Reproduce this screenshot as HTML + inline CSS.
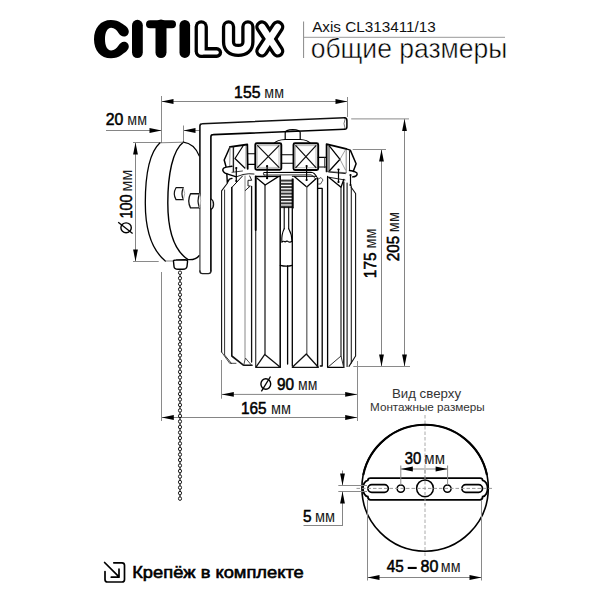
<!DOCTYPE html>
<html><head><meta charset="utf-8"><style>
html,body{margin:0;padding:0;background:#fff;width:600px;height:600px;overflow:hidden}
svg{display:block}
text{font-family:"Liberation Sans",sans-serif}
</style></head><body>
<svg width="600" height="600" viewBox="0 0 600 600">
<path d="M121.5,23.2 C118.5,21 115,20 111,20 C100.5,20 94,28 94,39.2 C94,50.3 100.5,58.3 111,58.3 C115,58.3 118.5,57.3 121.5,55 C125,52.5 128.8,50 128.8,46.5 C128.8,43.5 126.5,41.7 124,41.7 C121.5,41.7 120,43.5 118.5,45.5 C116.5,48.5 114.5,50.4 111.2,50.4 C107,50.4 105,45.5 105,39.2 C105,33 107,27.8 111.2,27.8 C114.5,27.8 116.5,30 118.5,33 C120,35 121.5,36.5 124,36.5 C126.5,36.5 128.8,34.5 128.8,31.5 C128.8,27.5 125,25.5 121.5,23.2 Z" fill="#000"/>
<g stroke="#000" stroke-linecap="round">
<line x1="137.4" y1="25.2" x2="137.4" y2="52.6" stroke="#000" stroke-width="10.8" />
<line x1="150" y1="24.2" x2="172" y2="24.2" stroke="#000" stroke-width="8" />
<line x1="161" y1="25" x2="161" y2="52.6" stroke="#000" stroke-width="11" />
<line x1="184.8" y1="25.2" x2="184.8" y2="52.6" stroke="#000" stroke-width="10.6" />
</g>
<g fill="none" stroke-linecap="round" stroke-linejoin="round">
<path d="M201.25,26.85 V51.2" stroke="#000" stroke-width="13.3"/>
<path d="M201.25,52.5 H216.7" stroke="#000" stroke-width="10.8"/>
<path d="M228.55,26.85 V42 C228.55,47.5 232,50.45 238.2,50.45 C244.4,50.45 247.9,47.5 247.9,42 V26.85" stroke="#000" stroke-width="13.3"/>
<path d="M261.9,26.9 L277.7,51" stroke="#000" stroke-width="13.2"/>
<path d="M277.7,26.9 L261.9,51" stroke="#000" stroke-width="13.2"/>
<path d="M201.25,26.85 V51.2" stroke="#fff" stroke-width="6.7"/>
<path d="M201.25,52.5 H216.7" stroke="#fff" stroke-width="4.2"/>
<path d="M228.55,26.85 V42 C228.55,47.5 232,50.45 238.2,50.45 C244.4,50.45 247.9,47.5 247.9,42 V26.85" stroke="#fff" stroke-width="6.7"/>
<path d="M261.9,26.9 L277.7,51" stroke="#fff" stroke-width="6.6"/>
<path d="M277.7,26.9 L261.9,51" stroke="#fff" stroke-width="6.6"/>
</g>
<line x1="303.6" y1="21.5" x2="303.6" y2="58" stroke="#888" stroke-width="1" />
<line x1="303.6" y1="37.3" x2="505" y2="37.3" stroke="#999" stroke-width="1" />
<text x="312.16" y="32" font-size="15.3" font-weight="normal" fill="#111" textLength="123.70" lengthAdjust="spacingAndGlyphs" >Axis CL313411/13</text>
<text x="310.67" y="58.2" font-size="27.9" font-weight="normal" fill="#000" textLength="196.62" lengthAdjust="spacingAndGlyphs" stroke="#fff" stroke-width="0.5">общие размеры</text>
<line x1="161.5" y1="101.5" x2="347.5" y2="101.5" stroke="#858585" stroke-width="1" />
<polygon points="161.5,101.5 173.50,99.10 173.50,103.90" fill="#000"/>
<polygon points="347.5,101.5 335.50,103.90 335.50,99.10" fill="#000"/>
<line x1="161.5" y1="96" x2="161.5" y2="143" stroke="#8a8a8a" stroke-width="1" />
<line x1="347.5" y1="97" x2="347.5" y2="117" stroke="#8a8a8a" stroke-width="1" />
<text x="234.12" y="98.1" font-size="17.2" font-weight="normal" fill="#000" textLength="26.33" lengthAdjust="spacingAndGlyphs"  stroke="#000" stroke-width="0.55">155</text>
<text x="264.30" y="98.1" font-size="15.9" font-weight="normal" fill="#1a1a1a" textLength="19.67" lengthAdjust="spacingAndGlyphs" >мм</text>
<line x1="106" y1="130.5" x2="161.5" y2="130.5" stroke="#858585" stroke-width="1" />
<polygon points="161.5,130.5 149.50,132.90 149.50,128.10" fill="#000"/>
<line x1="183.5" y1="130.5" x2="200" y2="130.5" stroke="#858585" stroke-width="1" />
<polygon points="183.5,130.5 195.50,128.10 195.50,132.90" fill="#000"/>
<line x1="183.5" y1="125.5" x2="183.5" y2="142" stroke="#8a8a8a" stroke-width="1" />
<text x="105.71" y="124.5" font-size="17.2" font-weight="normal" fill="#000" textLength="17.62" lengthAdjust="spacingAndGlyphs"  stroke="#000" stroke-width="0.55">20</text>
<text x="127.30" y="124.5" font-size="15.9" font-weight="normal" fill="#1a1a1a" textLength="19.67" lengthAdjust="spacingAndGlyphs" >мм</text>
<line x1="135.5" y1="142.5" x2="135.5" y2="261.5" stroke="#858585" stroke-width="1" />
<polygon points="135.5,142.5 137.90,154.50 133.10,154.50" fill="#000"/>
<polygon points="135.5,261.5 133.10,249.50 137.90,249.50" fill="#000"/>
<line x1="133" y1="142.5" x2="160" y2="142.5" stroke="#8a8a8a" stroke-width="1" />
<line x1="133" y1="261.5" x2="158.7" y2="261.5" stroke="#8a8a8a" stroke-width="1" />
<text x="131.6" y="218.59" font-size="17.2" font-weight="normal" fill="#000" textLength="24.14" lengthAdjust="spacingAndGlyphs" transform="rotate(-90 131.6 218.59)" stroke="#000" stroke-width="0.55">100</text>
<text x="131.6" y="191.73" font-size="15.9" font-weight="normal" fill="#1a1a1a" textLength="22.22" lengthAdjust="spacingAndGlyphs" transform="rotate(-90 131.6 191.73)">мм</text>
<ellipse cx="126.1" cy="227.8" rx="5.2" ry="4.9" fill="none" stroke="#000" stroke-width="1.4"/>
<line x1="118.2" y1="222.2" x2="132.6" y2="233.5" stroke="#000" stroke-width="1.3" />
<line x1="381.5" y1="149.5" x2="381.5" y2="366.5" stroke="#858585" stroke-width="1" />
<polygon points="381.5,149.5 383.90,161.50 379.10,161.50" fill="#000"/>
<polygon points="381.5,366.5 379.10,354.50 383.90,354.50" fill="#000"/>
<line x1="352.7" y1="149.5" x2="386" y2="149.5" stroke="#8a8a8a" stroke-width="1" />
<line x1="404.5" y1="118.9" x2="404.5" y2="366.5" stroke="#858585" stroke-width="1" />
<polygon points="404.5,118.9 406.90,130.90 402.10,130.90" fill="#000"/>
<polygon points="404.5,366.5 402.10,354.50 406.90,354.50" fill="#000"/>
<line x1="351.2" y1="118.9" x2="409" y2="118.9" stroke="#8a8a8a" stroke-width="1" />
<line x1="353.3" y1="366.5" x2="410" y2="366.5" stroke="#8a8a8a" stroke-width="1" />
<text x="376.5" y="278.16" font-size="17.2" font-weight="normal" fill="#000" textLength="25.79" lengthAdjust="spacingAndGlyphs" transform="rotate(-90 376.5 278.16)" stroke="#000" stroke-width="0.55">175</text>
<text x="376.5" y="248.52" font-size="15.9" font-weight="normal" fill="#1a1a1a" textLength="20.00" lengthAdjust="spacingAndGlyphs" transform="rotate(-90 376.5 248.52)">мм</text>
<text x="399.5" y="261.26" font-size="17.2" font-weight="normal" fill="#000" textLength="25.38" lengthAdjust="spacingAndGlyphs" transform="rotate(-90 399.5 261.26)" stroke="#000" stroke-width="0.55">205</text>
<text x="399.5" y="232.23" font-size="15.9" font-weight="normal" fill="#1a1a1a" textLength="20.22" lengthAdjust="spacingAndGlyphs" transform="rotate(-90 399.5 232.23)">мм</text>
<line x1="221.5" y1="394.4" x2="357.5" y2="394.4" stroke="#858585" stroke-width="1" />
<polygon points="221.8,394.4 233.80,392.00 233.80,396.80" fill="#000"/>
<polygon points="357.2,394.4 345.20,396.80 345.20,392.00" fill="#000"/>
<line x1="221.5" y1="360" x2="221.5" y2="398.7" stroke="#8a8a8a" stroke-width="1" />
<line x1="357.5" y1="361" x2="357.5" y2="421" stroke="#8a8a8a" stroke-width="1" />
<ellipse cx="265.8" cy="384" rx="4.9" ry="5.2" fill="none" stroke="#000" stroke-width="1.4"/>
<line x1="261.4" y1="391.3" x2="270.5" y2="376.5" stroke="#000" stroke-width="1.3" />
<text x="277.02" y="389.8" font-size="17.2" font-weight="normal" fill="#000" textLength="17.09" lengthAdjust="spacingAndGlyphs"  stroke="#000" stroke-width="0.55">90</text>
<text x="298.12" y="389.8" font-size="15.9" font-weight="normal" fill="#1a1a1a" textLength="19.33" lengthAdjust="spacingAndGlyphs" >мм</text>
<line x1="161.5" y1="417.5" x2="357.5" y2="417.5" stroke="#858585" stroke-width="1" />
<polygon points="161.8,417.5 173.80,415.10 173.80,419.90" fill="#000"/>
<polygon points="357.2,417.5 345.20,419.90 345.20,415.10" fill="#000"/>
<line x1="161.5" y1="272" x2="161.5" y2="421" stroke="#8a8a8a" stroke-width="1" />
<text x="241.05" y="413.8" font-size="17.2" font-weight="normal" fill="#000" textLength="25.58" lengthAdjust="spacingAndGlyphs"  stroke="#000" stroke-width="0.55">165</text>
<text x="270.98" y="413.8" font-size="15.9" font-weight="normal" fill="#1a1a1a" textLength="20.00" lengthAdjust="spacingAndGlyphs" >мм</text>
<text x="391.90" y="397.6" font-size="13.3" font-weight="normal" fill="#333" textLength="69.14" lengthAdjust="spacingAndGlyphs" >Вид сверху</text>
<text x="370.03" y="411" font-size="11.6" font-weight="normal" fill="#333" textLength="114.76" lengthAdjust="spacingAndGlyphs" >Монтажные размеры</text>
<g stroke-dasharray="3.5 2">
<line x1="425" y1="415" x2="425" y2="557" stroke="#aaa" stroke-width="1" />
</g>
<circle cx="425.1" cy="488" r="63.2" fill="none" stroke="#000" stroke-width="1.6"/>
<path d="M363.25,475 A63.2 63.2 0 0 1 486.95,475" fill="none" stroke="#000" stroke-width="2.1"/>
<path d="M370.5,478.1 H480 Q482.5,478.1 482.7,480.3 A5.5 8.2 0 0 1 482.7,496.6 Q482.5,499.8 480,499.8 H370.5 Q368,499.8 367.8,496.6 A5.5 8.2 0 0 1 367.8,480.3 Q368,478.1 370.5,478.1 Z" fill="#fff" stroke="#000" stroke-width="1.8"/>
<rect x="367.9" y="484.6" width="20.4" height="7.7" rx="3.85" fill="none" stroke="#000" stroke-width="1.7"/>
<rect x="461.9" y="484.6" width="20.6" height="7.7" rx="3.85" fill="none" stroke="#000" stroke-width="1.7"/>
<circle cx="400.8" cy="488.6" r="3.7" fill="none" stroke="#000" stroke-width="1.5"/>
<circle cx="447.4" cy="488.6" r="3.7" fill="none" stroke="#000" stroke-width="1.5"/>
<circle cx="425" cy="488.3" r="8.4" fill="none" stroke="#000" stroke-width="1.5"/>
<g stroke-dasharray="3.5 2">
<line x1="356.5" y1="488.4" x2="493" y2="488.4" stroke="#999" stroke-width="1" />
<line x1="425" y1="470" x2="425" y2="505" stroke="#999" stroke-width="1" />
</g>
<line x1="400.8" y1="469" x2="447.4" y2="469" stroke="#858585" stroke-width="1" />
<polygon points="400.8,469 412.80,466.60 412.80,471.40" fill="#000"/>
<polygon points="447.6,469 435.60,471.40 435.60,466.60" fill="#000"/>
<line x1="400.8" y1="465.5" x2="400.8" y2="485" stroke="#8a8a8a" stroke-width="1" />
<line x1="447.6" y1="465.5" x2="447.6" y2="485" stroke="#8a8a8a" stroke-width="1" />
<text x="404.85" y="463.7" font-size="17.2" font-weight="normal" fill="#000" textLength="16.44" lengthAdjust="spacingAndGlyphs"  stroke="#000" stroke-width="0.55">30</text>
<text x="424.35" y="463.7" font-size="15.9" font-weight="normal" fill="#1a1a1a" textLength="20.67" lengthAdjust="spacingAndGlyphs" >мм</text>
<line x1="338.3" y1="485.5" x2="367" y2="485.5" stroke="#8a8a8a" stroke-width="1" />
<line x1="338.3" y1="491.5" x2="367" y2="491.5" stroke="#8a8a8a" stroke-width="1" />
<line x1="342.5" y1="470.5" x2="342.5" y2="485.5" stroke="#858585" stroke-width="1" />
<polygon points="342.5,485.5 340.10,473.50 344.90,473.50" fill="#000"/>
<line x1="342.5" y1="491.5" x2="342.5" y2="525.5" stroke="#858585" stroke-width="1" />
<polygon points="342.5,491.5 344.90,503.50 340.10,503.50" fill="#000"/>
<line x1="303.5" y1="525.5" x2="343" y2="525.5" stroke="#858585" stroke-width="1" />
<text x="303.09" y="521.9" font-size="17.2" font-weight="normal" fill="#000" textLength="8.55" lengthAdjust="spacingAndGlyphs"  stroke="#000" stroke-width="0.55">5</text>
<text x="314.88" y="521.9" font-size="15.9" font-weight="normal" fill="#1a1a1a" textLength="20.11" lengthAdjust="spacingAndGlyphs" >мм</text>
<line x1="367.5" y1="500" x2="367.5" y2="580.5" stroke="#8a8a8a" stroke-width="1" />
<line x1="481.5" y1="500" x2="481.5" y2="580.5" stroke="#8a8a8a" stroke-width="1" />
<line x1="367.5" y1="577.5" x2="481.5" y2="577.5" stroke="#858585" stroke-width="1" />
<polygon points="367.5,577.5 379.50,575.10 379.50,579.90" fill="#000"/>
<polygon points="481.5,577.5 469.50,579.90 469.50,575.10" fill="#000"/>
<text x="386.86" y="572.2" font-size="17.2" font-weight="normal" fill="#000" textLength="16.99" lengthAdjust="spacingAndGlyphs"  stroke="#000" stroke-width="0.55">45</text>
<rect x="407.7" y="566.9" width="9" height="2.1" fill="#000"/>
<text x="420.52" y="572.2" font-size="17.2" font-weight="normal" fill="#000" textLength="17.82" lengthAdjust="spacingAndGlyphs"  stroke="#000" stroke-width="0.55">80</text>
<text x="440.80" y="572.2" font-size="15.9" font-weight="normal" fill="#1a1a1a" textLength="19.67" lengthAdjust="spacingAndGlyphs" >мм</text>
<path d="M160,142.8 C150,152 145.3,175 145.3,203 C145.3,232 152,250 165.3,261" fill="none" stroke="#000" stroke-width="1.3" stroke-linecap="round" stroke-linejoin="round" />
<path d="M183.3,142.2 C172.5,150 167.8,175 167.8,203 C167.8,232 175,251 188,259.6 C193,260 197,258.5 199.3,255.5" fill="none" stroke="#000" stroke-width="1.4" stroke-linecap="round" stroke-linejoin="round" />
<path d="M183.3,142.2 C190,143 196,148 199.3,156" fill="none" stroke="#000" stroke-width="1.2" stroke-linecap="round" stroke-linejoin="round" />
<path d="M160,142.8 L183.3,142.2" fill="none" stroke="#666" stroke-width="0.8" stroke-linecap="round" stroke-linejoin="round" />
<path d="M165.3,261 L174,261" fill="none" stroke="#666" stroke-width="0.8" stroke-linecap="round" stroke-linejoin="round" />
<path d="M173.5,261.5 Q173,260 176,260 L185,259.8 Q188,259.8 187.5,262 L187,266.5 Q186.5,269.3 183,269.3 L178,269.3 Q174.2,269.3 174,266.5 Z" fill="#fff" stroke="#000" stroke-width="1.4" stroke-linecap="round" stroke-linejoin="round" />
<path d="M199.9,205 L199.9,126 Q199.9,123.7 202.2,123.7 L344.5,117.8" fill="none" stroke="#111" stroke-width="1.6" stroke-linecap="round" stroke-linejoin="round" />
<path d="M199.9,204 L199.9,271" fill="none" stroke="#555" stroke-width="1.4" stroke-linecap="round" stroke-linejoin="round" />
<path d="M210.9,271 L210.9,136.8 Q210.9,134.6 213.2,134.6 L344.5,129.3" fill="none" stroke="#000" stroke-width="1.6" stroke-linecap="round" stroke-linejoin="round" />
<path d="M199.9,271 Q199.9,273.6 202.5,273.6 L208.3,273.6 Q210.9,273.6 210.9,271" fill="none" stroke="#222" stroke-width="1.4" stroke-linecap="round" stroke-linejoin="round" />
<path d="M344.5,117.8 Q346.9,118 346.9,120.5 L346.9,127 Q346.9,129.3 344.5,129.3" fill="none" stroke="#000" stroke-width="1.5" stroke-linecap="round" stroke-linejoin="round" />
<path d="M345,119.2 Q342.8,123.5 345,128.3" fill="none" stroke="#555" stroke-width="0.8" stroke-linecap="round" stroke-linejoin="round" />
<path d="M183.4,187.7 L176,187.7 Q172.6,193.6 176,199.6 L183.4,199.6" fill="#fff" stroke="#111" stroke-width="1.2" stroke-linecap="round" stroke-linejoin="round" />
<path d="M183.4,187.7 Q180.6,193.65 183.4,199.6" fill="none" stroke="#111" stroke-width="1.2" stroke-linecap="round" stroke-linejoin="round" />
<path d="M183.4,187.7 Q186.2,193.65 183.4,199.6" fill="none" stroke="#999" stroke-width="0.8" stroke-linecap="round" stroke-linejoin="round" />
<path d="M199.5,193.75 L190.5,193.75 Q187,200.8 190.5,207.9 L199.5,207.9 Q202.2,200.8 199.5,193.75 Z" fill="#fff" stroke="#fff" stroke-width="0.1" stroke-linecap="round" stroke-linejoin="round" />
<path d="M199.5,193.75 L190.5,193.75 Q187,200.8 190.5,207.9 L199.5,207.9" fill="none" stroke="#111" stroke-width="1.3" stroke-linecap="round" stroke-linejoin="round" />
<path d="M199.5,193.75 Q196.6,200.8 199.5,207.9" fill="none" stroke="#111" stroke-width="1.2" stroke-linecap="round" stroke-linejoin="round" />
<path d="M199.5,193.75 Q202.2,200.8 199.5,207.9" fill="none" stroke="#aaa" stroke-width="0.8" stroke-linecap="round" stroke-linejoin="round" />
<path d="M211,199 Q213.6,200.5 213.6,204.2 Q213.6,208 211,209.5" fill="#ccc" stroke="#111" stroke-width="1.2" stroke-linecap="round" stroke-linejoin="round" />
<path d="M285.2,139.5 V132.5 Q285.5,129.8 292.7,129.6 Q299.9,129.8 300.2,132.5 V139.5" fill="none" stroke="#000" stroke-width="1.2" stroke-linecap="round" stroke-linejoin="round" />
<path d="M274,143.3 Q277,139.9 285.2,139.5 L300.2,139.5 Q307.5,139.9 310.5,143.3" fill="none" stroke="#000" stroke-width="1.1" stroke-linecap="round" stroke-linejoin="round" />
<path d="M230.1,146.8 L247.3,144.5 L247.7,168.8" fill="none" stroke="#000" stroke-width="1.8" stroke-linecap="round" stroke-linejoin="round" />
<path d="M233.4,147.2 L233.4,171.5" fill="none" stroke="#222" stroke-width="1.4" stroke-linecap="round" stroke-linejoin="round" />
<path d="M230.1,146.8 L224.2,160 L226,166.6" fill="none" stroke="#000" stroke-width="1.5" stroke-linecap="round" stroke-linejoin="round" />
<path d="M230.1,147.2 L229.7,166" fill="none" stroke="#777" stroke-width="0.8" stroke-linecap="round" stroke-linejoin="round" />
<path d="M245.9,146.2 L245.9,168" fill="none" stroke="#888" stroke-width="0.8" stroke-linecap="round" stroke-linejoin="round" />
<path d="M243,146 L235,158.5 L244.8,168" fill="none" stroke="#000" stroke-width="1.2" stroke-linecap="round" stroke-linejoin="round" />
<path d="M256.8,143.3 L279.8,143.3 Q281.3,143.3 281.3,144.8 L281.3,168.2 Q281.3,169.7 279.8,169.7 L256.8,169.7 Q255.3,169.7 255.3,168.2 L255.3,144.8 Q255.3,143.3 256.8,143.3 Z" fill="none" stroke="#000" stroke-width="1.9" stroke-linecap="round" stroke-linejoin="round" />
<path d="M257.6,145.6 H279 V167.4 H257.6 Z" fill="none" stroke="#777" stroke-width="0.5" stroke-linecap="round" stroke-linejoin="round" />
<path d="M257.6,145.6 L279,167.4 M279,145.6 L257.6,167.4" fill="none" stroke="#111" stroke-width="1.25" stroke-linecap="round" stroke-linejoin="round" />
<path d="M295,143.3 L316.7,143.3 Q318.2,143.3 318.2,144.8 L318.2,168.5 Q318.2,170 316.7,170 L295,170 Q293.5,170 293.5,168.5 L293.5,144.8 Q293.5,143.3 295,143.3 Z" fill="none" stroke="#000" stroke-width="1.9" stroke-linecap="round" stroke-linejoin="round" />
<path d="M295.8,145.6 H316 V167.7 H295.8 Z" fill="none" stroke="#777" stroke-width="0.5" stroke-linecap="round" stroke-linejoin="round" />
<path d="M295.8,145.6 L316,167.7 M316,145.6 L295.8,167.7" fill="none" stroke="#111" stroke-width="1.25" stroke-linecap="round" stroke-linejoin="round" />
<path d="M326.6,171.4 L326.6,144.2 L346.2,148.9" fill="none" stroke="#000" stroke-width="1.8" stroke-linecap="round" stroke-linejoin="round" />
<path d="M329,145.5 L329,171" fill="none" stroke="#222" stroke-width="1.0" stroke-linecap="round" stroke-linejoin="round" />
<path d="M346.2,148.9 L346.2,172.5" fill="none" stroke="#666" stroke-width="0.8" stroke-linecap="round" stroke-linejoin="round" />
<path d="M327,171.4 L346.2,172.8" fill="none" stroke="#444" stroke-width="0.8" stroke-linecap="round" stroke-linejoin="round" />
<path d="M329.3,145.8 L340,159.3 M329.5,170.8 L340,159.3" fill="none" stroke="#000" stroke-width="1.3" stroke-linecap="round" stroke-linejoin="round" />
<path d="M340,159.3 L345.5,170 M340,159.3 L345,150.5" fill="none" stroke="#777" stroke-width="0.7" stroke-linecap="round" stroke-linejoin="round" />
<path d="M346.2,148.9 L350.3,150.1 L356.1,163.7 L353.2,171.4" fill="none" stroke="#000" stroke-width="1.5" stroke-linecap="round" stroke-linejoin="round" />
<path d="M349.5,150.5 L349.5,170" fill="none" stroke="#222" stroke-width="1.0" stroke-linecap="round" stroke-linejoin="round" />
<line x1="247.9" y1="153.8" x2="255.3" y2="153.8" stroke="#000" stroke-width="1.1" stroke-linecap="round"/>
<line x1="247.9" y1="164.4" x2="255.3" y2="164.4" stroke="#000" stroke-width="1.1" stroke-linecap="round"/>
<line x1="281.3" y1="154.7" x2="293.5" y2="154.7" stroke="#000" stroke-width="1.1" stroke-linecap="round"/>
<line x1="281.3" y1="163.3" x2="293.5" y2="163.3" stroke="#000" stroke-width="1.1" stroke-linecap="round"/>
<line x1="318.2" y1="157.4" x2="326.6" y2="157.4" stroke="#000" stroke-width="1.1" stroke-linecap="round"/>
<line x1="318.2" y1="167" x2="326.6" y2="167" stroke="#000" stroke-width="1.1" stroke-linecap="round"/>
<line x1="324.6" y1="157.7" x2="324.6" y2="167.7" stroke="#333" stroke-width="0.9" stroke-linecap="round"/>
<path d="M232,166.3 L226.4,167.1 C222,167.8 221.5,171 225.5,173.4 L236.4,176.8" fill="none" stroke="#000" stroke-width="1.4" stroke-linecap="round" stroke-linejoin="round" />
<path d="M226.8,173.4 L227.3,182.6 L229.4,179.1 L232,178.4" fill="none" stroke="#000" stroke-width="1.4" stroke-linecap="round" stroke-linejoin="round" />
<path d="M232,172.3 L242.5,171" fill="none" stroke="#333" stroke-width="0.9" stroke-linecap="round" stroke-linejoin="round" />
<path d="M236.4,176.8 L243,174.5 Q249,173.2 254,174" fill="none" stroke="#222" stroke-width="1.0" stroke-linecap="round" stroke-linejoin="round" />
<path d="M264,172.5 L311,172.3 Q314.5,172.5 316.7,177" fill="none" stroke="#000" stroke-width="1.1" stroke-linecap="round" stroke-linejoin="round" />
<path d="M264,175 L311,174.8 Q313.5,175.5 315.5,179" fill="none" stroke="#333" stroke-width="0.9" stroke-linecap="round" stroke-linejoin="round" />
<path d="M264,172.5 Q262.5,173.7 264,175" fill="none" stroke="#000" stroke-width="0.9" stroke-linecap="round" stroke-linejoin="round" />
<path d="M328.6,172 L345.4,173.6" fill="none" stroke="#222" stroke-width="1.0" stroke-linecap="round" stroke-linejoin="round" />
<path d="M349.5,170.5 C354,171 357.5,172.5 357.2,174 C356.8,175.8 354,176.8 352.5,176.9" fill="none" stroke="#000" stroke-width="1.4" stroke-linecap="round" stroke-linejoin="round" />
<line x1="236.3" y1="168" x2="236.3" y2="181" stroke="#000" stroke-width="1.2" stroke-linecap="round"/>
<circle cx="236.3" cy="168" r="1.1" fill="#000"/>
<circle cx="236.3" cy="181" r="1.1" fill="#000"/>
<line x1="267.1" y1="166.2" x2="267.1" y2="178.2" stroke="#000" stroke-width="1.2" stroke-linecap="round"/>
<circle cx="267.1" cy="166.2" r="1.1" fill="#000"/>
<circle cx="267.1" cy="178.2" r="1.1" fill="#000"/>
<line x1="306.6" y1="166" x2="306.6" y2="180" stroke="#000" stroke-width="1.2" stroke-linecap="round"/>
<circle cx="306.6" cy="166" r="1.1" fill="#000"/>
<circle cx="306.6" cy="180" r="1.1" fill="#000"/>
<line x1="338.5" y1="169.5" x2="338.5" y2="182" stroke="#000" stroke-width="1.2" stroke-linecap="round"/>
<circle cx="338.5" cy="169.5" r="1.1" fill="#000"/>
<circle cx="338.5" cy="182" r="1.1" fill="#000"/>
<line x1="350.5" y1="175" x2="350.5" y2="185" stroke="#000" stroke-width="1.2" stroke-linecap="round"/>
<circle cx="350.5" cy="175" r="1.1" fill="#000"/>
<circle cx="350.5" cy="185" r="1.1" fill="#000"/>
<path d="M221.6,352 L221.6,190.8 L227.5,183" fill="none" stroke="#111" stroke-width="1.1" stroke-linecap="round" stroke-linejoin="round" />
<path d="M224.6,190 L224.6,355 L231.5,363.5" fill="none" stroke="#333" stroke-width="1.0" stroke-linecap="round" stroke-linejoin="round" />
<path d="M221.6,352 L229.7,363.3 L236,363.3" fill="none" stroke="#333" stroke-width="0.9" stroke-linecap="round" stroke-linejoin="round" />
<path d="M231.8,187.5 L231.8,356 L243.7,365.3 L252,365.3" fill="none" stroke="#111" stroke-width="1.6" stroke-linecap="round" stroke-linejoin="round" />
<path d="M231.8,187.5 L242.5,176" fill="none" stroke="#000" stroke-width="1.0" stroke-linecap="round" stroke-linejoin="round" />
<path d="M245,176 L245,358" fill="none" stroke="#888" stroke-width="1.0" stroke-linecap="round" stroke-linejoin="round" />
<path d="M243.7,365.3 L245.4,358 L251.6,365.3" fill="none" stroke="#333" stroke-width="0.9" stroke-linecap="round" stroke-linejoin="round" />
<path d="M249.7,176 L251.7,180.3 L248,180.3 L248,186 L250.3,186 L245.3,190.5" fill="none" stroke="#222" stroke-width="1.0" stroke-linecap="round" stroke-linejoin="round" />
<path d="M251.6,186.5 L251.6,362" fill="none" stroke="#111" stroke-width="1.3" stroke-linecap="round" stroke-linejoin="round" />
<path d="M255.7,176.5 L255.7,367" fill="none" stroke="#333" stroke-width="1.2" stroke-linecap="round" stroke-linejoin="round" />
<path d="M255.7,176.5 L255.7,230" fill="none" stroke="#000" stroke-width="1.8" stroke-linecap="round" stroke-linejoin="round" />
<path d="M280.2,176 L280.2,367" fill="none" stroke="#000" stroke-width="1.5" stroke-linecap="round" stroke-linejoin="round" />
<path d="M255.7,176.5 L280.3,176.3" fill="none" stroke="#000" stroke-width="1.3" stroke-linecap="round" stroke-linejoin="round" />
<path d="M257,178.2 L265.2,185 L278.3,176.6" fill="none" stroke="#000" stroke-width="1.3" stroke-linecap="round" stroke-linejoin="round" />
<path d="M265,185 L265,354" fill="none" stroke="#111" stroke-width="1.2" stroke-linecap="round" stroke-linejoin="round" />
<path d="M255.8,367.3 L264.8,354.4 L280.3,367.3 Z" fill="none" stroke="#111" stroke-width="1.3" stroke-linecap="round" stroke-linejoin="round" />
<path d="M293.3,179 L293.3,208" fill="none" stroke="#222" stroke-width="1.0" stroke-linecap="round" stroke-linejoin="round" />
<line x1="280.8" y1="180.60" x2="293" y2="180.60" stroke="#3a3a3a" stroke-width="2.0"/>
<line x1="280.8" y1="183.85" x2="293" y2="183.85" stroke="#3a3a3a" stroke-width="2.0"/>
<line x1="280.8" y1="187.10" x2="293" y2="187.10" stroke="#3a3a3a" stroke-width="2.0"/>
<line x1="280.8" y1="190.35" x2="293" y2="190.35" stroke="#3a3a3a" stroke-width="2.0"/>
<line x1="280.8" y1="193.60" x2="293" y2="193.60" stroke="#3a3a3a" stroke-width="2.0"/>
<line x1="280.8" y1="196.85" x2="293" y2="196.85" stroke="#3a3a3a" stroke-width="2.0"/>
<line x1="280.8" y1="200.10" x2="293" y2="200.10" stroke="#3a3a3a" stroke-width="2.0"/>
<line x1="280.8" y1="203.35" x2="293" y2="203.35" stroke="#3a3a3a" stroke-width="2.0"/>
<line x1="280.8" y1="206.60" x2="293" y2="206.60" stroke="#3a3a3a" stroke-width="2.0"/>
<line x1="281.2" y1="207.6" x2="293" y2="207.6" stroke="#222" stroke-width="1.0" stroke-linecap="round"/>
<path d="M284.2,207.3 L284.2,228.8 M288.7,207.3 L288.7,228.8" fill="none" stroke="#000" stroke-width="1.1" stroke-linecap="round" stroke-linejoin="round" />
<path d="M284.2,228.8 C282,233 281.6,238 281.8,242.3 Q283.5,240.3 285.2,242 Q286.5,240.6 287.8,241.3 Q289.8,243 292,241.3 C292,237 290.5,232 288.7,228.8" fill="none" stroke="#000" stroke-width="1.1" stroke-linecap="round" stroke-linejoin="round" />
<path d="M280.3,265.3 Q286.3,267 292.2,265.3" fill="none" stroke="#000" stroke-width="1.2" stroke-linecap="round" stroke-linejoin="round" />
<path d="M287.6,266 L287.6,364 M292.3,179 L292.3,366" fill="none" stroke="#000" stroke-width="1.3" stroke-linecap="round" stroke-linejoin="round" />
<path d="M292.3,176.3 L316.5,176.3" fill="none" stroke="#000" stroke-width="1.0" stroke-linecap="round" stroke-linejoin="round" />
<path d="M294.3,176.6 L306.8,187 L316.2,178.6" fill="none" stroke="#000" stroke-width="1.3" stroke-linecap="round" stroke-linejoin="round" />
<path d="M306.8,187 L306.8,354" fill="none" stroke="#666" stroke-width="1.3" stroke-linecap="round" stroke-linejoin="round" />
<path d="M317.6,178 L317.6,367" fill="none" stroke="#000" stroke-width="1.4" stroke-linecap="round" stroke-linejoin="round" />
<path d="M292.3,367.3 L306.3,354 L318.3,367.3 Z" fill="none" stroke="#111" stroke-width="1.3" stroke-linecap="round" stroke-linejoin="round" />
<path d="M317.6,188.4 L322.2,188.4 L322.2,366 L320.3,366" fill="none" stroke="#000" stroke-width="1.3" stroke-linecap="round" stroke-linejoin="round" />
<path d="M318.3,179 L321,177.5 L323,180 L320.5,184 L318.3,184" fill="none" stroke="#444" stroke-width="0.9" stroke-linecap="round" stroke-linejoin="round" />
<path d="M327.6,176.5 L327.6,367.3 L343.7,367.3" fill="none" stroke="#000" stroke-width="1.3" stroke-linecap="round" stroke-linejoin="round" />
<path d="M328.6,177.2 L345,180" fill="none" stroke="#222" stroke-width="1.0" stroke-linecap="round" stroke-linejoin="round" />
<path d="M329,177.4 L341,187.2 L343.8,179.4" fill="none" stroke="#000" stroke-width="1.3" stroke-linecap="round" stroke-linejoin="round" />
<path d="M341,187 L341,356" fill="none" stroke="#222" stroke-width="1.2" stroke-linecap="round" stroke-linejoin="round" />
<path d="M343.8,182 L343.8,367.3" fill="none" stroke="#000" stroke-width="1.3" stroke-linecap="round" stroke-linejoin="round" />
<path d="M327.8,367.3 L341,356 L343.7,367.3" fill="none" stroke="#333" stroke-width="1.0" stroke-linecap="round" stroke-linejoin="round" />
<path d="M347.1,183 L347.1,366.4" fill="none" stroke="#222" stroke-width="1.2" stroke-linecap="round" stroke-linejoin="round" />
<path d="M351.3,186 L351.3,363" fill="none" stroke="#222" stroke-width="1.1" stroke-linecap="round" stroke-linejoin="round" />
<path d="M351,187 L355.6,193.5 L355.6,356 L349,366.4" fill="none" stroke="#111" stroke-width="1.1" stroke-linecap="round" stroke-linejoin="round" />
<ellipse cx="180" cy="272.70" rx="1.55" ry="1.8" fill="none" stroke="#000" stroke-width="0.9"/>
<line x1="180" y1="274.50" x2="180" y2="276.40" stroke="#000" stroke-width="1"/>
<ellipse cx="180" cy="278.21" rx="1.55" ry="1.8" fill="none" stroke="#000" stroke-width="0.9"/>
<line x1="180" y1="280.01" x2="180" y2="281.91" stroke="#000" stroke-width="1"/>
<ellipse cx="180" cy="283.72" rx="1.55" ry="1.8" fill="none" stroke="#000" stroke-width="0.9"/>
<line x1="180" y1="285.52" x2="180" y2="287.42" stroke="#000" stroke-width="1"/>
<ellipse cx="180" cy="289.23" rx="1.55" ry="1.8" fill="none" stroke="#000" stroke-width="0.9"/>
<line x1="180" y1="291.03" x2="180" y2="292.93" stroke="#000" stroke-width="1"/>
<ellipse cx="180" cy="294.74" rx="1.55" ry="1.8" fill="none" stroke="#000" stroke-width="0.9"/>
<line x1="180" y1="296.54" x2="180" y2="298.44" stroke="#000" stroke-width="1"/>
<ellipse cx="180" cy="300.25" rx="1.55" ry="1.8" fill="none" stroke="#000" stroke-width="0.9"/>
<line x1="180" y1="302.05" x2="180" y2="303.95" stroke="#000" stroke-width="1"/>
<ellipse cx="180" cy="305.76" rx="1.55" ry="1.8" fill="none" stroke="#000" stroke-width="0.9"/>
<line x1="180" y1="307.56" x2="180" y2="309.46" stroke="#000" stroke-width="1"/>
<ellipse cx="180" cy="311.27" rx="1.55" ry="1.8" fill="none" stroke="#000" stroke-width="0.9"/>
<line x1="180" y1="313.07" x2="180" y2="314.97" stroke="#000" stroke-width="1"/>
<ellipse cx="180" cy="316.78" rx="1.55" ry="1.8" fill="none" stroke="#000" stroke-width="0.9"/>
<line x1="180" y1="318.58" x2="180" y2="320.48" stroke="#000" stroke-width="1"/>
<ellipse cx="180" cy="322.29" rx="1.55" ry="1.8" fill="none" stroke="#000" stroke-width="0.9"/>
<line x1="180" y1="324.09" x2="180" y2="325.99" stroke="#000" stroke-width="1"/>
<ellipse cx="180" cy="327.80" rx="1.55" ry="1.8" fill="none" stroke="#000" stroke-width="0.9"/>
<line x1="180" y1="329.60" x2="180" y2="331.50" stroke="#000" stroke-width="1"/>
<ellipse cx="180" cy="333.31" rx="1.55" ry="1.8" fill="none" stroke="#000" stroke-width="0.9"/>
<line x1="180" y1="335.11" x2="180" y2="337.01" stroke="#000" stroke-width="1"/>
<ellipse cx="180" cy="338.82" rx="1.55" ry="1.8" fill="none" stroke="#000" stroke-width="0.9"/>
<line x1="180" y1="340.62" x2="180" y2="342.52" stroke="#000" stroke-width="1"/>
<ellipse cx="180" cy="344.33" rx="1.55" ry="1.8" fill="none" stroke="#000" stroke-width="0.9"/>
<line x1="180" y1="346.13" x2="180" y2="348.03" stroke="#000" stroke-width="1"/>
<ellipse cx="180" cy="349.84" rx="1.55" ry="1.8" fill="none" stroke="#000" stroke-width="0.9"/>
<line x1="180" y1="351.64" x2="180" y2="353.54" stroke="#000" stroke-width="1"/>
<ellipse cx="180" cy="355.35" rx="1.55" ry="1.8" fill="none" stroke="#000" stroke-width="0.9"/>
<line x1="180" y1="357.15" x2="180" y2="359.05" stroke="#000" stroke-width="1"/>
<ellipse cx="180" cy="360.86" rx="1.55" ry="1.8" fill="none" stroke="#000" stroke-width="0.9"/>
<line x1="180" y1="362.66" x2="180" y2="364.56" stroke="#000" stroke-width="1"/>
<ellipse cx="180" cy="366.37" rx="1.55" ry="1.8" fill="none" stroke="#000" stroke-width="0.9"/>
<line x1="180" y1="368.17" x2="180" y2="370.07" stroke="#000" stroke-width="1"/>
<ellipse cx="180" cy="371.88" rx="1.55" ry="1.8" fill="none" stroke="#000" stroke-width="0.9"/>
<line x1="180" y1="373.68" x2="180" y2="375.58" stroke="#000" stroke-width="1"/>
<ellipse cx="180" cy="377.39" rx="1.55" ry="1.8" fill="none" stroke="#000" stroke-width="0.9"/>
<line x1="180" y1="379.19" x2="180" y2="381.09" stroke="#000" stroke-width="1"/>
<ellipse cx="180" cy="382.90" rx="1.55" ry="1.8" fill="none" stroke="#000" stroke-width="0.9"/>
<line x1="180" y1="384.70" x2="180" y2="386.60" stroke="#000" stroke-width="1"/>
<ellipse cx="180" cy="388.41" rx="1.55" ry="1.8" fill="none" stroke="#000" stroke-width="0.9"/>
<line x1="180" y1="390.21" x2="180" y2="392.11" stroke="#000" stroke-width="1"/>
<ellipse cx="180" cy="393.92" rx="1.55" ry="1.8" fill="none" stroke="#000" stroke-width="0.9"/>
<line x1="180" y1="395.72" x2="180" y2="397.62" stroke="#000" stroke-width="1"/>
<ellipse cx="180" cy="399.43" rx="1.55" ry="1.8" fill="none" stroke="#000" stroke-width="0.9"/>
<line x1="180" y1="401.23" x2="180" y2="403.13" stroke="#000" stroke-width="1"/>
<ellipse cx="180" cy="404.94" rx="1.55" ry="1.8" fill="none" stroke="#000" stroke-width="0.9"/>
<line x1="180" y1="406.74" x2="180" y2="408.64" stroke="#000" stroke-width="1"/>
<ellipse cx="180" cy="410.45" rx="1.55" ry="1.8" fill="none" stroke="#000" stroke-width="0.9"/>
<line x1="180" y1="412.25" x2="180" y2="414.15" stroke="#000" stroke-width="1"/>
<ellipse cx="180" cy="415.96" rx="1.55" ry="1.8" fill="none" stroke="#000" stroke-width="0.9"/>
<line x1="180" y1="417.76" x2="180" y2="419.66" stroke="#000" stroke-width="1"/>
<ellipse cx="180" cy="421.47" rx="1.55" ry="1.8" fill="none" stroke="#000" stroke-width="0.9"/>
<line x1="180" y1="423.27" x2="180" y2="425.17" stroke="#000" stroke-width="1"/>
<ellipse cx="180" cy="426.98" rx="1.55" ry="1.8" fill="none" stroke="#000" stroke-width="0.9"/>
<line x1="180" y1="428.78" x2="180" y2="430.68" stroke="#000" stroke-width="1"/>
<ellipse cx="180" cy="432.49" rx="1.55" ry="1.8" fill="none" stroke="#000" stroke-width="0.9"/>
<line x1="180" y1="434.29" x2="180" y2="436.19" stroke="#000" stroke-width="1"/>
<ellipse cx="180" cy="438.00" rx="1.55" ry="1.8" fill="none" stroke="#000" stroke-width="0.9"/>
<line x1="180" y1="439.80" x2="180" y2="441.70" stroke="#000" stroke-width="1"/>
<ellipse cx="180" cy="443.51" rx="1.55" ry="1.8" fill="none" stroke="#000" stroke-width="0.9"/>
<line x1="180" y1="445.31" x2="180" y2="447.21" stroke="#000" stroke-width="1"/>
<ellipse cx="180" cy="449.02" rx="1.55" ry="1.8" fill="none" stroke="#000" stroke-width="0.9"/>
<line x1="180" y1="450.82" x2="180" y2="452.72" stroke="#000" stroke-width="1"/>
<ellipse cx="180" cy="454.53" rx="1.55" ry="1.8" fill="none" stroke="#000" stroke-width="0.9"/>
<line x1="180" y1="456.33" x2="180" y2="458.23" stroke="#000" stroke-width="1"/>
<ellipse cx="180" cy="460.04" rx="1.55" ry="1.8" fill="none" stroke="#000" stroke-width="0.9"/>
<line x1="180" y1="461.84" x2="180" y2="463.74" stroke="#000" stroke-width="1"/>
<ellipse cx="180" cy="465.55" rx="1.55" ry="1.8" fill="none" stroke="#000" stroke-width="0.9"/>
<line x1="180" y1="467.35" x2="180" y2="469.25" stroke="#000" stroke-width="1"/>
<ellipse cx="180" cy="471.06" rx="1.55" ry="1.8" fill="none" stroke="#000" stroke-width="0.9"/>
<line x1="180" y1="472.86" x2="180" y2="474.76" stroke="#000" stroke-width="1"/>
<ellipse cx="180" cy="476.57" rx="1.55" ry="1.8" fill="none" stroke="#000" stroke-width="0.9"/>
<line x1="180" y1="478.37" x2="180" y2="480.27" stroke="#000" stroke-width="1"/>
<ellipse cx="180" cy="482.08" rx="1.55" ry="1.8" fill="none" stroke="#000" stroke-width="0.9"/>
<line x1="180" y1="483.88" x2="180" y2="485.78" stroke="#000" stroke-width="1"/>
<ellipse cx="180" cy="487.59" rx="1.55" ry="1.8" fill="none" stroke="#000" stroke-width="0.9"/>
<line x1="180" y1="489.39" x2="180" y2="491.29" stroke="#000" stroke-width="1"/>
<ellipse cx="180" cy="493.10" rx="1.55" ry="1.8" fill="none" stroke="#000" stroke-width="0.9"/>
<line x1="180" y1="494.90" x2="180" y2="496.80" stroke="#000" stroke-width="1"/>
<ellipse cx="180" cy="498.61" rx="1.55" ry="1.8" fill="none" stroke="#000" stroke-width="0.9"/>
<g fill="none" stroke="#000" stroke-width="1.7" stroke-linecap="round" stroke-linejoin="round">
<path d="M113.8,562.8 H122 Q124.5,562.8 124.5,565.3 V579.5 Q124.5,582 122,582 H107.5 Q105,582 105,579.5 V571.6"/>
<path d="M104.6,562.5 L119,576.9 M119,569.2 V577.2 H111.3"/>
</g>
<text x="132.19" y="577.7" font-size="16.7" font-weight="normal" fill="#000" textLength="171.61" lengthAdjust="spacingAndGlyphs" stroke="#000" stroke-width="0.6">Крепёж в комплекте</text>
</svg>
</body></html>
